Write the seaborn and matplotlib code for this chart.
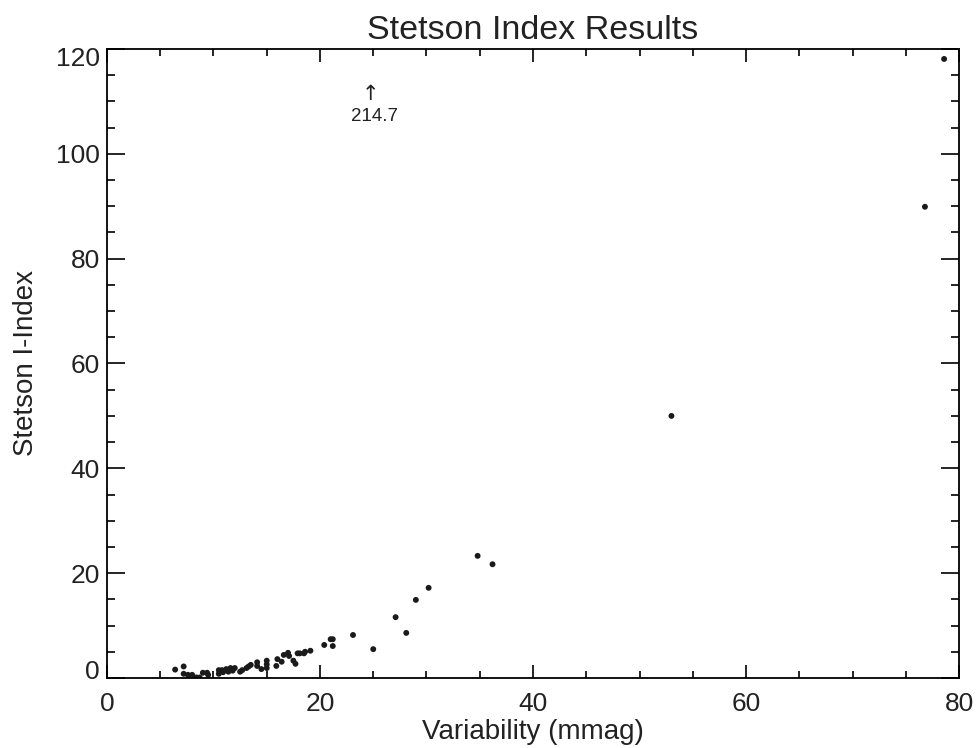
import matplotlib
matplotlib.use("Agg")
import matplotlib.pyplot as plt
import matplotlib.transforms as mtransforms
import seaborn as sns
import pandas as pd
from matplotlib.ticker import MultipleLocator

variability = [6.4, 7.2, 7.2, 7.6, 8.0, 8.4, 8.7, 9.0, 9.4, 9.5, 10.5, 10.5, 10.8, 10.9,
               11.2, 11.4, 11.6, 11.8, 12.0, 12.5, 12.7, 13.1, 13.3, 13.5, 14.1, 14.1,
               14.5, 15.0, 15.0, 15.0, 15.9, 16.0, 16.4, 16.6, 17.0, 17.1, 17.5, 17.7,
               17.9, 18.1, 18.5, 18.6, 19.1, 20.4, 21.0, 21.2, 21.2, 23.1, 25.0, 27.1,
               28.1, 29.0, 30.2, 34.8, 36.2, 53.0, 76.8, 78.6]
stetson_i = [1.6, 2.2, 0.8, 0.6, 0.6, 0.1, 0.1, 1.0, 1.0, 0.6, 1.5, 0.8, 1.5, 1.1,
             1.7, 1.2, 1.9, 1.4, 1.9, 1.2, 1.5, 1.9, 2.2, 2.5, 3.0, 2.3,
             1.7, 1.9, 3.3, 2.6, 2.3, 3.6, 3.1, 4.4, 4.8, 4.2, 3.3, 2.7,
             4.7, 4.7, 4.7, 5.0, 5.2, 6.3, 7.4, 7.4, 6.1, 8.2, 5.5, 11.6,
             8.6, 14.9, 17.2, 23.3, 21.7, 50.0, 89.9, 118.1]
offscale_x = 24.7
offscale_label = "214.7"

df = pd.DataFrame({"Variability": variability, "Stetson": stetson_i})

sns.set_theme(style="white")
plt.rcParams['font.family'] = ['Liberation Sans', 'DejaVu Sans']

fig = plt.figure(figsize=(9.77, 7.48), dpi=100)
ax = fig.add_axes([0.1095, 0.0936, 0.8721, 0.8409])

sns.scatterplot(data=df, x="Variability", y="Stetson", ax=ax, color="#1a1a1a",
                s=18, edgecolor="none", linewidth=0)

ax.set_xlim(0, 80)
ax.set_ylim(0, 120)
ax.xaxis.set_major_locator(MultipleLocator(20))
ax.xaxis.set_minor_locator(MultipleLocator(5))
ax.yaxis.set_major_locator(MultipleLocator(20))
ax.yaxis.set_minor_locator(MultipleLocator(5))
ax.tick_params(which="both", direction="in", top=True, right=True, bottom=True, left=True,
               color="black", width=1.2)
ax.tick_params(axis="x", which="major", length=9.5, labelsize=19, pad=10, labelcolor="#222222")
ax.tick_params(axis="y", which="major", length=13, labelsize=19, pad=5, labelcolor="#222222")
ax.tick_params(axis="x", which="minor", length=5)
ax.tick_params(axis="y", which="minor", length=5.8)
for sp in ax.spines.values():
    sp.set_color("black")
    sp.set_linewidth(1.3)

ax.set_xlabel("Variability (mmag)", fontsize=20, color="#222222", labelpad=2)
ax.set_ylabel("Stetson I-Index", fontsize=20, color="#222222", labelpad=12)
ax.set_title("Stetson Index Results", fontsize=24.5, color="#222222", pad=7)

fig.canvas.draw()
for lab in ax.get_yticklabels():
    txt = lab.get_text().replace("\u2212", "-")
    if txt == "0":
        lab.set_transform(lab.get_transform() + mtransforms.ScaledTranslation(0, 8 / 100, fig.dpi_scale_trans))
    elif txt == "120":
        lab.set_transform(lab.get_transform() + mtransforms.ScaledTranslation(0, -8 / 100, fig.dpi_scale_trans))

ax.text(offscale_x, 111.5, "\u2191", ha="center", va="center", fontsize=15, color="#222222",
        family=['DejaVu Sans'])
ax.text(offscale_x + 0.4, 107.1, offscale_label, ha="center", va="center", fontsize=13.5,
        color="#222222")

fig.savefig("out.png", dpi=100)
